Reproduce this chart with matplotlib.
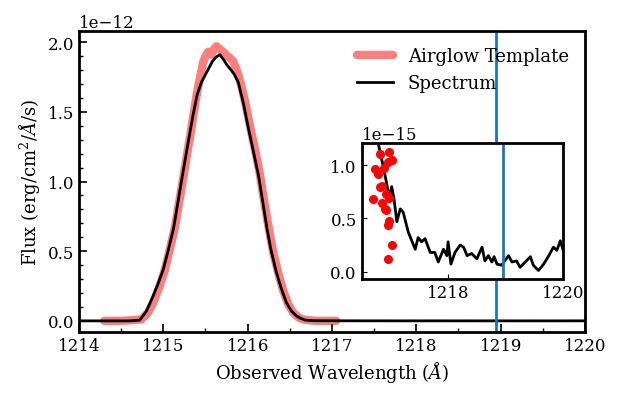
import matplotlib
matplotlib.use("Agg")
import matplotlib.pyplot as plt
import numpy as np
from matplotlib.ticker import MultipleLocator

plt.rcParams['font.family'] = 'serif'
plt.rcParams['font.serif'] = ['DejaVu Serif']
plt.rcParams['mathtext.fontset'] = 'dejavuserif'
plt.rcParams['font.size'] = 12

# airglow template (flux in 1e-12)
tmpl_wave = [1214.30, 1214.50, 1214.74, 1214.82, 1214.88, 1214.95, 1215.02, 1215.08,
             1215.14, 1215.19, 1215.24, 1215.28, 1215.32, 1215.36, 1215.40, 1215.44,
             1215.47, 1215.50, 1215.53, 1215.57, 1215.60, 1215.63, 1215.67, 1215.71,
             1215.76, 1215.82, 1215.87, 1215.92, 1215.97, 1216.02, 1216.08, 1216.14,
             1216.19, 1216.24, 1216.30, 1216.36, 1216.42, 1216.48, 1216.54, 1216.60,
             1216.66, 1216.80, 1217.05]
tmpl_flux = [0.0, 0.0, 0.01, 0.06, 0.13, 0.24, 0.37, 0.52,
             0.68, 0.86, 1.04, 1.19, 1.33, 1.49, 1.64, 1.76,
             1.85, 1.90, 1.93, 1.91, 1.95, 1.97, 1.95, 1.93,
             1.90, 1.87, 1.80, 1.70, 1.57, 1.42, 1.25, 1.07,
             0.88, 0.70, 0.50, 0.35, 0.22, 0.12, 0.06, 0.025,
             0.01, 0.0, 0.0]

# spectrum core (flux in 1e-12)
core_wave = [1214.00, 1214.20, 1214.40, 1214.60, 1214.72, 1214.80, 1214.88, 1214.94,
             1215.00, 1215.06, 1215.12, 1215.17, 1215.22, 1215.26, 1215.30, 1215.35,
             1215.40, 1215.45, 1215.51, 1215.58, 1215.62, 1215.67, 1215.72, 1215.75,
             1215.79, 1215.84, 1215.89, 1215.95, 1216.01, 1216.07, 1216.13, 1216.18,
             1216.23, 1216.28, 1216.34, 1216.40, 1216.46, 1216.52, 1216.58, 1216.62,
             1216.68]
core_flux = [0.0, 0.0, 0.0, 0.0, 0.005, 0.07, 0.18, 0.27,
             0.37, 0.51, 0.66, 0.84, 1.02, 1.16, 1.30, 1.47,
             1.62, 1.71, 1.78, 1.86, 1.89, 1.91, 1.87, 1.84,
             1.81, 1.77, 1.71, 1.56, 1.38, 1.21, 1.04, 0.85,
             0.66, 0.50, 0.35, 0.23, 0.13, 0.07, 0.035, 0.02,
             0.006]

# spectrum wing (flux in 1e-15)
wing_wave = [1216.74, 1216.79, 1216.87, 1216.93, 1216.98, 1217.02, 1217.06, 1217.11,
             1217.17, 1217.22, 1217.31, 1217.43, 1217.48, 1217.54, 1217.60, 1217.69,
             1217.77, 1217.83, 1217.92, 1217.98, 1218.00, 1218.05, 1218.12, 1218.21,
             1218.27, 1218.33, 1218.41, 1218.50, 1218.59, 1218.64, 1218.70, 1218.76,
             1218.80, 1218.85, 1218.93, 1219.05, 1219.11, 1219.19, 1219.25, 1219.34,
             1219.43, 1219.48, 1219.57, 1219.66, 1219.75, 1219.83, 1219.89, 1219.95,
             1220.00]
wing_flux = [2.5, 1.20, 1.00, 0.84, 0.69, 0.80, 0.69, 0.47,
             0.59, 0.56, 0.37, 0.21, 0.32, 0.28, 0.31, 0.18,
             0.18, 0.09, 0.21, 0.15, 0.28, 0.07, 0.18, 0.25,
             0.23, 0.15, 0.17, 0.12, 0.23, 0.10, 0.15, 0.09,
             0.14, 0.07, 0.06, 0.15, 0.09, 0.10, 0.04, 0.09,
             0.14, 0.06, 0.01, 0.07, 0.15, 0.23, 0.20, 0.29,
             0.20]

# red points (flux in 1e-15)
pts_wave = [1216.69, 1216.73, 1216.79, 1216.82, 1216.85, 1216.82, 1216.86, 1216.89,
            1216.90, 1216.92, 1216.93, 1216.96, 1216.98, 1217.02, 1216.98, 1216.98,
            1216.96, 1217.02, 1216.96]
pts_flux = [0.68, 0.97, 0.92, 1.11, 0.65, 0.80, 0.81, 0.98,
            0.59, 0.58, 0.73, 1.03, 1.13, 1.05, 0.69, 0.48,
            0.44, 0.25, 0.12]

line_wave = 1218.95

spec_wave = np.array(core_wave + wing_wave)
spec_flux = np.concatenate([np.array(core_flux) * 1e-12, np.array(wing_flux) * 1e-15])

fig = plt.figure(figsize=(6.22, 4.02), dpi=100)
ax = fig.add_axes([0.127, 0.1716, 0.8135, 0.7488])

ax.plot(tmpl_wave, np.array(tmpl_flux) * 1e-12, color='r', alpha=0.5, lw=6,
        solid_capstyle='round', label='Airglow Template')
ax.plot(spec_wave, spec_flux, color='k', lw=2, label='Spectrum')
ax.axvline(line_wave, color='C0', lw=2)

ax.set_xlim(1214, 1220)
ax.set_ylim(-0.08e-12, 2.08e-12)
ax.yaxis.set_major_locator(MultipleLocator(0.5e-12))
ax.xaxis.set_minor_locator(MultipleLocator(0.5))
ax.yaxis.set_minor_locator(MultipleLocator(0.1e-12))
ax.tick_params(which='both', direction='in')
ax.tick_params(which='major', length=6, width=1.2)
ax.tick_params(which='minor', length=3, width=1.0)
for s in ax.spines.values():
    s.set_linewidth(2)
ax.set_xlabel(r'Observed Wavelength ($\AA$)', fontsize=13)
ax.set_ylabel(r'Flux (erg/cm$^2$/$\AA$/s)', fontsize=13)
ax.legend(loc='upper right', frameon=False, fontsize=13)

ins = fig.add_axes([0.5815, 0.3035, 0.324, 0.338])
ins.plot(spec_wave, spec_flux, color='k', lw=2)
ins.plot(pts_wave, np.array(pts_flux) * 1e-15, 'o', color='r', ms=5.5, ls='none')
ins.axvline(line_wave, color='C0', lw=2)
ins.set_xlim(1216.5, 1220)
ins.set_ylim(-0.07e-15, 1.21e-15)
ins.xaxis.set_major_locator(MultipleLocator(2))
ins.yaxis.set_major_locator(MultipleLocator(0.5e-15))
ins.tick_params(which='both', direction='in')
for s in ins.spines.values():
    s.set_linewidth(2)

fig.savefig('out.png', dpi=100)
